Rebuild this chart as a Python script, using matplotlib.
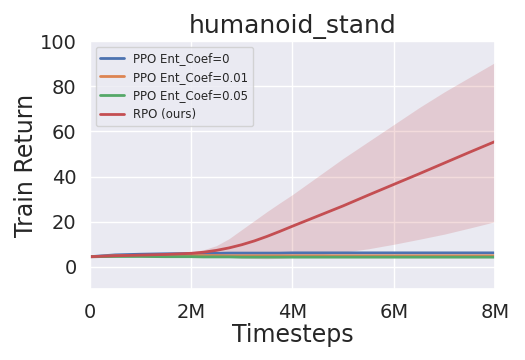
import matplotlib
matplotlib.use("Agg")
import matplotlib.pyplot as plt
import seaborn as sns
import numpy as np

sns.set_theme(style="darkgrid")

# timesteps in millions
steps = [0, 0.5, 1, 1.5, 2, 2.25, 2.5, 2.75, 3, 3.25, 3.5, 3.75, 4, 4.5, 5, 5.5, 6, 6.5, 7, 7.5, 8]

ppo_0 = [4.5, 5.3, 5.6, 5.8, 5.9, 6.0, 6.0, 6.1, 6.1, 6.1, 6.1, 6.1, 6.2, 6.2, 6.2, 6.2, 6.2, 6.2, 6.2, 6.2, 6.2]
ppo_001 = [4.5, 4.9, 5.0, 5.0, 5.0, 5.0, 5.0, 4.9, 4.9, 4.9, 4.9, 4.9, 4.9, 4.9, 4.9, 4.9, 4.9, 4.9, 4.9, 4.9, 4.9]
ppo_005 = [4.5, 4.6, 4.6, 4.5, 4.5, 4.4, 4.4, 4.4, 4.3, 4.3, 4.3, 4.3, 4.3, 4.3, 4.3, 4.3, 4.3, 4.3, 4.3, 4.3, 4.3]

rpo_mean = [4.5, 4.9, 5.2, 5.5, 6.0, 6.5, 7.3, 8.4, 9.8, 11.5, 13.5, 15.7, 18.0, 22.5, 27.0, 31.8, 36.5, 41.2, 46.0, 50.8, 55.5]
rpo_low = [3.8, 4.7, 5.0, 5.3, 5.5, 5.0, 4.6, 4.2, 3.9, 3.7, 3.6, 3.8, 4.2, 5.2, 6.5, 8.0, 10.0, 12.2, 14.5, 17.2, 20.0]
rpo_high = [5.2, 5.1, 5.4, 5.8, 6.6, 7.6, 9.4, 12.5, 16.5, 20.5, 24.5, 28.3, 32.0, 40.0, 48.0, 55.5, 63.0, 70.5, 77.5, 84.0, 90.5]

x = np.array(steps) * 1e6
colors = sns.color_palette("deep")

fig, ax = plt.subplots(figsize=(5.25, 3.6), dpi=100)
ax.plot(x, ppo_0, color=colors[0], lw=2, label="PPO Ent_Coef=0")
ax.plot(x, ppo_001, color=colors[1], lw=2, label="PPO Ent_Coef=0.01")
ax.plot(x, ppo_005, color=colors[2], lw=2, label="PPO Ent_Coef=0.05")
ax.plot(x, rpo_mean, color=colors[3], lw=2, label="RPO (ours)")
ax.fill_between(x, rpo_low, rpo_high, color=colors[3], alpha=0.2, lw=0)

ax.set_xlim(0, 8e6)
ax.set_ylim(-10, 100)
ax.set_xticks([0, 2e6, 4e6, 6e6, 8e6])
ax.set_xticklabels(["0", "2M", "4M", "6M", "8M"])
ax.set_yticks([0, 20, 40, 60, 80, 100])
ax.tick_params(labelsize=14)
ax.set_title("humanoid_stand", fontsize=18)
ax.set_xlabel("Timesteps", fontsize=17, labelpad=1)
ax.set_ylabel("Train Return", fontsize=17, labelpad=1)
ax.legend(loc="upper left", fontsize=8.5)

fig.subplots_adjust(left=0.171, right=0.943, top=0.886, bottom=0.196)
fig.savefig("out.png", dpi=100)
